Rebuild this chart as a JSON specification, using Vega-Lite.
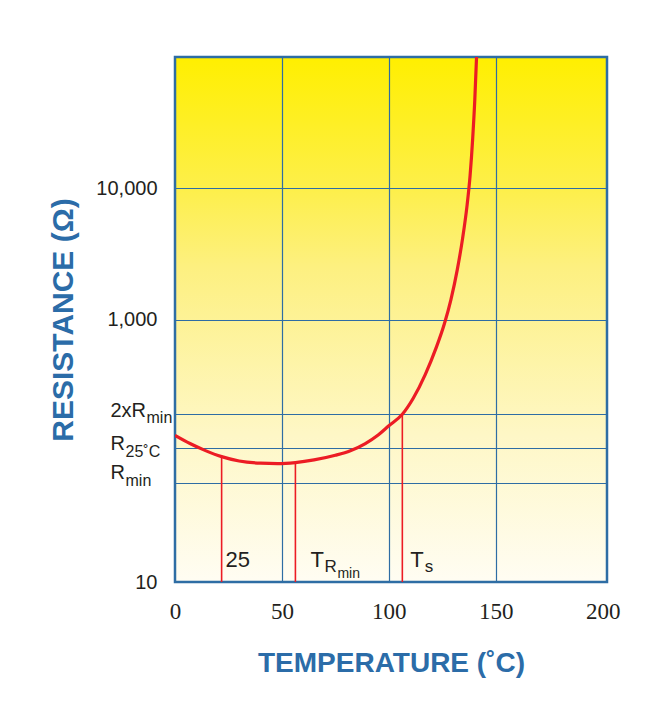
{
  "$schema": "https://vega.github.io/schema/vega-lite/v6.json",
  "width": 432,
  "height": 525,
  "autosize": {"type": "none"},
  "padding": {"left": 175, "top": 57, "right": 56, "bottom": 127},
  "background": "white",
  "config": {
    "view": {
      "stroke": "#2e6da4",
      "strokeWidth": 2.5,
      "fill": {
        "gradient": "linear", "x1": 0, "y1": 0, "x2": 0, "y2": 1,
        "stops": [
          {"offset": 0, "color": "#ffef00"},
          {"offset": 0.25, "color": "#fdef4a"},
          {"offset": 0.4, "color": "#fdf080"},
          {"offset": 0.72, "color": "#fef7c6"},
          {"offset": 1, "color": "#fffdf3"}
        ]
      }
    },
    "text": {"font": "Liberation Sans", "color": "#231f20"}
  },
  "datasets": {
    "curve": [
      {"t": 0, "r": 130.9},
      {"t": 7, "r": 113.5},
      {"t": 14, "r": 100.7},
      {"t": 21.8, "r": 90.2},
      {"t": 30, "r": 83.6},
      {"t": 40, "r": 80.4},
      {"t": 48, "r": 79.8},
      {"t": 56.3, "r": 81.3},
      {"t": 65, "r": 85.1},
      {"t": 75, "r": 92.3},
      {"t": 82, "r": 100},
      {"t": 89, "r": 113.5},
      {"t": 95, "r": 131.8},
      {"t": 100, "r": 154.9},
      {"t": 106.3, "r": 189.6},
      {"t": 111.4, "r": 251.2},
      {"t": 117, "r": 380.2},
      {"t": 122, "r": 602.6},
      {"t": 126, "r": 933.3},
      {"t": 129, "r": 1413},
      {"t": 132, "r": 2399},
      {"t": 134.5, "r": 4169},
      {"t": 136.5, "r": 7244},
      {"t": 138, "r": 12589},
      {"t": 139.2, "r": 23988},
      {"t": 140.2, "r": 47863},
      {"t": 141, "r": 100000}
    ],
    "markers": [
      {"id": "25", "t": 21.8, "r": 90.2},
      {"id": "TR", "t": 56.3, "r": 81.3},
      {"id": "Ts", "t": 106.3, "r": 189.6}
    ],
    "ylab": [
      {"id": "2x", "r": 189.6, "main": "2xR", "sub": "min"},
      {"id": "r25", "r": 104.4, "main": "R", "sub": "25˚C"},
      {"id": "rmin", "r": 57.1, "main": "R", "sub": "min"}
    ]
  },
  "layer": [
    {
      "data": {"name": "markers"},
      "mark": {"type": "rule", "color": "#ec1c24", "strokeWidth": 1.6},
      "encoding": {
        "x": {
          "field": "t", "type": "quantitative",
          "scale": {"domain": [0, 202], "nice": false, "zero": false},
          "axis": {
            "values": [0, 50, 100, 150, 200],
            "title": "TEMPERATURE (˚C)",
            "grid": true,
            "gridColor": "#2e6da4",
            "gridWidth": 1.2,
            "gridOpacity": {"condition": {"test": "datum.value == 0 || datum.value == 200", "value": 0}, "value": 1},
            "ticks": false,
            "domain": false,
            "labelFont": "Liberation Serif",
            "labelFontSize": 23,
            "labelColor": "#231f20",
            "labelPadding": 18,
            "labelFlush": false,
            "labelOverlap": false,
            "titleFont": "Liberation Sans",
            "titleFontWeight": "bold",
            "titleFontSize": 28,
            "titleColor": "#2b6ca8",
            "titlePadding": 26
          }
        },
        "y": {
          "field": "r", "type": "quantitative",
          "scale": {"type": "log", "domain": [10, 100000], "nice": false},
          "axis": {
            "values": [10, 57.1, 104.4, 189.6, 1000, 10000],
            "labelExpr": "datum.value == 10 ? '10' : datum.value == 1000 ? '1,000' : datum.value == 10000 ? '10,000' : ''",
            "title": "RESISTANCE (Ω)",
            "grid": true,
            "gridColor": "#2e6da4",
            "gridWidth": 1.2,
            "ticks": false,
            "domain": false,
            "labelFont": "Liberation Sans",
            "labelFontSize": 20,
            "labelColor": "#231f20",
            "labelPadding": 18,
            "labelOverlap": false,
            "titleFont": "Liberation Sans",
            "titleFontWeight": "bold",
            "titleFontSize": 30,
            "titleColor": "#2b6ca8",
            "titlePadding": 17
          }
        },
        "y2": {"datum": 10}
      }
    },
    {
      "data": {"name": "curve"},
      "mark": {"type": "line", "color": "#ec1c24", "strokeWidth": 3.2, "interpolate": "monotone", "clip": true},
      "encoding": {
        "x": {"field": "t", "type": "quantitative"},
        "y": {"field": "r", "type": "quantitative"}
      }
    },
    {
      "data": {"name": "markers"},
      "transform": [{"filter": "datum.id == '25'"}],
      "mark": {"type": "text", "align": "left", "baseline": "alphabetic", "dx": 4, "dy": -14.7, "fontSize": 22},
      "encoding": {"x": {"field": "t", "type": "quantitative"}, "y": {"datum": 10}, "text": {"value": "25"}}
    },
    {
      "data": {"name": "markers"},
      "transform": [{"filter": "datum.id == 'TR'"}],
      "mark": {"type": "text", "align": "left", "baseline": "alphabetic", "dx": 15, "dy": -14.7, "fontSize": 22},
      "encoding": {"x": {"field": "t", "type": "quantitative"}, "y": {"datum": 10}, "text": {"value": "T"}}
    },
    {
      "data": {"name": "markers"},
      "transform": [{"filter": "datum.id == 'TR'"}],
      "mark": {"type": "text", "align": "left", "baseline": "alphabetic", "dx": 29, "dy": -10.5, "fontSize": 17},
      "encoding": {"x": {"field": "t", "type": "quantitative"}, "y": {"datum": 10}, "text": {"value": "R"}}
    },
    {
      "data": {"name": "markers"},
      "transform": [{"filter": "datum.id == 'TR'"}],
      "mark": {"type": "text", "align": "left", "baseline": "alphabetic", "dx": 42, "dy": -4.5, "fontSize": 14},
      "encoding": {"x": {"field": "t", "type": "quantitative"}, "y": {"datum": 10}, "text": {"value": "min"}}
    },
    {
      "data": {"name": "markers"},
      "transform": [{"filter": "datum.id == 'Ts'"}],
      "mark": {"type": "text", "align": "left", "baseline": "alphabetic", "dx": 8, "dy": -14.7, "fontSize": 22},
      "encoding": {"x": {"field": "t", "type": "quantitative"}, "y": {"datum": 10}, "text": {"value": "T"}}
    },
    {
      "data": {"name": "markers"},
      "transform": [{"filter": "datum.id == 'Ts'"}],
      "mark": {"type": "text", "align": "left", "baseline": "alphabetic", "dx": 22.5, "dy": -10.3, "fontSize": 17},
      "encoding": {"x": {"field": "t", "type": "quantitative"}, "y": {"datum": 10}, "text": {"value": "s"}}
    },
    {
      "data": {"name": "ylab"},
      "mark": {"type": "text", "align": "left", "baseline": "alphabetic", "dx": -64.5, "dy": 2.7, "fontSize": 20},
      "transform": [{"filter": "datum.id == '2x'"}],
      "encoding": {"x": {"datum": 0}, "y": {"field": "r", "type": "quantitative"}, "text": {"field": "main"}}
    },
    {
      "data": {"name": "ylab"},
      "mark": {"type": "text", "align": "left", "baseline": "alphabetic", "dx": -28.5, "dy": 9, "fontSize": 16},
      "transform": [{"filter": "datum.id == '2x'"}],
      "encoding": {"x": {"datum": 0}, "y": {"field": "r", "type": "quantitative"}, "text": {"field": "sub"}}
    },
    {
      "data": {"name": "ylab"},
      "mark": {"type": "text", "align": "left", "baseline": "alphabetic", "dx": -64.5, "dy": 1.7, "fontSize": 20},
      "transform": [{"filter": "datum.id == 'r25'"}],
      "encoding": {"x": {"datum": 0}, "y": {"field": "r", "type": "quantitative"}, "text": {"field": "main"}}
    },
    {
      "data": {"name": "ylab"},
      "mark": {"type": "text", "align": "left", "baseline": "alphabetic", "dx": -49.5, "dy": 8.4, "fontSize": 16},
      "transform": [{"filter": "datum.id == 'r25'"}],
      "encoding": {"x": {"datum": 0}, "y": {"field": "r", "type": "quantitative"}, "text": {"field": "sub"}}
    },
    {
      "data": {"name": "ylab"},
      "mark": {"type": "text", "align": "left", "baseline": "alphabetic", "dx": -64.5, "dy": -3.7, "fontSize": 20},
      "transform": [{"filter": "datum.id == 'rmin'"}],
      "encoding": {"x": {"datum": 0}, "y": {"field": "r", "type": "quantitative"}, "text": {"field": "main"}}
    },
    {
      "data": {"name": "ylab"},
      "mark": {"type": "text", "align": "left", "baseline": "alphabetic", "dx": -49.5, "dy": 3, "fontSize": 16},
      "transform": [{"filter": "datum.id == 'rmin'"}],
      "encoding": {"x": {"datum": 0}, "y": {"field": "r", "type": "quantitative"}, "text": {"field": "sub"}}
    }
  ]
}
